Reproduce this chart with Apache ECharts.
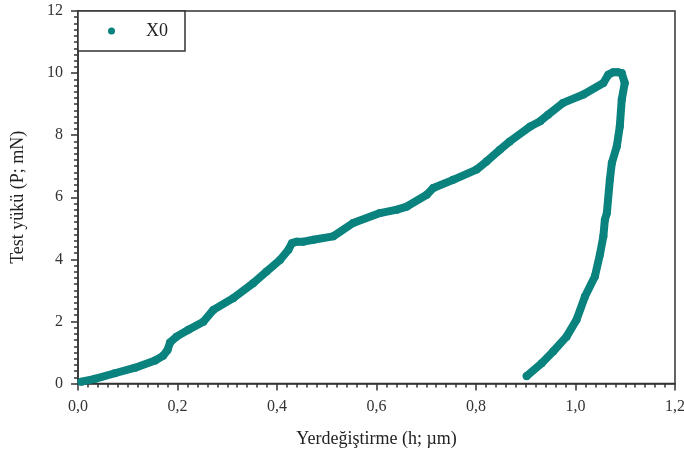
<!DOCTYPE html>
<html>
<head>
<meta charset="utf-8">
<script src="https://cdn.jsdelivr.net/npm/echarts@6/dist/echarts.min.js"></script>
<style>
  html, body { margin: 0; padding: 0; background: #fff; }
  #chart { width: 684px; height: 453px; }
</style>
</head>
<body>
<div id="chart"></div>
<script>
// Load-displacement curve: loading branch then unloading branch
const displacement = [
  0.007, 0.034, 0.074, 0.115, 0.155, 0.171, 0.180, 0.185, 0.198, 0.222,
  0.252, 0.272, 0.312, 0.352, 0.379, 0.406, 0.423, 0.430, 0.440, 0.453,
  0.473, 0.513, 0.553, 0.607, 0.641, 0.661, 0.701, 0.714, 0.754, 0.801,
  0.821, 0.848, 0.868, 0.909, 0.929, 0.945, 0.975, 1.016, 1.056, 1.066,
  1.076, 1.085, 1.093, 1.099,
  1.093, 1.089, 1.083, 1.073, 1.069, 1.063, 1.059, 1.056, 1.049, 1.039,
  1.019, 1.002, 0.982, 0.955, 0.932, 0.902
];
const load = [
  0.06, 0.15, 0.33, 0.51, 0.74, 0.89, 1.08, 1.32, 1.51, 1.73,
  1.99, 2.37, 2.75, 3.23, 3.61, 3.98, 4.31, 4.52, 4.57, 4.57,
  4.63, 4.74, 5.17, 5.49, 5.60, 5.70, 6.08, 6.30, 6.56, 6.89,
  7.15, 7.53, 7.80, 8.28, 8.45, 8.66, 9.04, 9.31, 9.68, 9.95,
  10.03, 10.03, 10.00, 9.68,
  9.15, 8.28, 7.64, 7.10, 6.56, 5.49, 5.27, 4.74, 4.15, 3.45,
  2.80, 2.05, 1.51, 1.03, 0.65, 0.24
];
const seriesName = 'X0';
const xTitle = 'Yerdeğiştirme (h; µm)';
const yTitle = 'Test yükü (P; mN)';

const teal = '#0a827e';
const ink = '#333';
const serif = '"Liberation Serif", "DejaVu Serif", serif';

const points = displacement.map((x, i) => [x, load[i]]);

const chart = echarts.init(document.getElementById('chart'));
chart.setOption({
  animation: false,
  backgroundColor: '#fff',
  grid: {
    left: 78, right: 9, top: 11, bottom: 69.5,
    outerBoundsMode: 'none',
    containLabel: false,
    show: true, borderColor: ink, borderWidth: 1.5, backgroundColor: 'transparent'
  },
  legend: {
    left: 78, top: 11,
    orient: 'vertical',
    icon: 'circle',
    itemWidth: 7, itemHeight: 7,
    padding: [11, 17, 11, 30],
    backgroundColor: '#fff',
    borderColor: ink, borderWidth: 1.5,
    textStyle: { fontFamily: serif, fontSize: 18, color: '#222', padding: [0, 0, 0, 26] },
    data: [seriesName]
  },
  xAxis: {
    type: 'value', min: 0, max: 1.2, interval: 0.2,
    name: xTitle, nameLocation: 'middle', nameGap: 47,
    nameTextStyle: { fontFamily: serif, fontSize: 18, color: '#222' },
    axisLine: { show: true, lineStyle: { color: ink, width: 1.5 } },
    axisTick: { show: true, length: 7, lineStyle: { color: ink, width: 1.5 } },
    minorTick: { show: true, splitNumber: 10, length: 4, lineStyle: { color: ink, width: 1.5 } },
    splitLine: { show: false },
    axisLabel: {
      margin: 15, fontFamily: serif, fontSize: 16, color: '#333',
      formatter: v => v.toFixed(1).replace('.', ',')
    }
  },
  yAxis: {
    type: 'value', min: 0, max: 12, interval: 2,
    name: yTitle, nameLocation: 'middle', nameGap: 51,
    nameTextStyle: { fontFamily: serif, fontSize: 18, color: '#222' },
    axisLine: { show: true, lineStyle: { color: ink, width: 1.5 } },
    axisTick: { show: true, length: 7, lineStyle: { color: ink, width: 1.5 } },
    minorTick: { show: true, splitNumber: 10, length: 4, lineStyle: { color: ink, width: 1.5 } },
    splitLine: { show: false },
    axisLabel: { margin: 15, fontFamily: serif, fontSize: 16, color: '#333' }
  },
  series: [{
    name: seriesName,
    type: 'line',
    data: points,
    showSymbol: true,
    symbol: 'circle',
    symbolSize: 8,
    itemStyle: { color: teal },
    lineStyle: { color: teal, width: 8, cap: 'round', join: 'round' },
    z: 1
  }]
});
</script>
</body>
</html>
